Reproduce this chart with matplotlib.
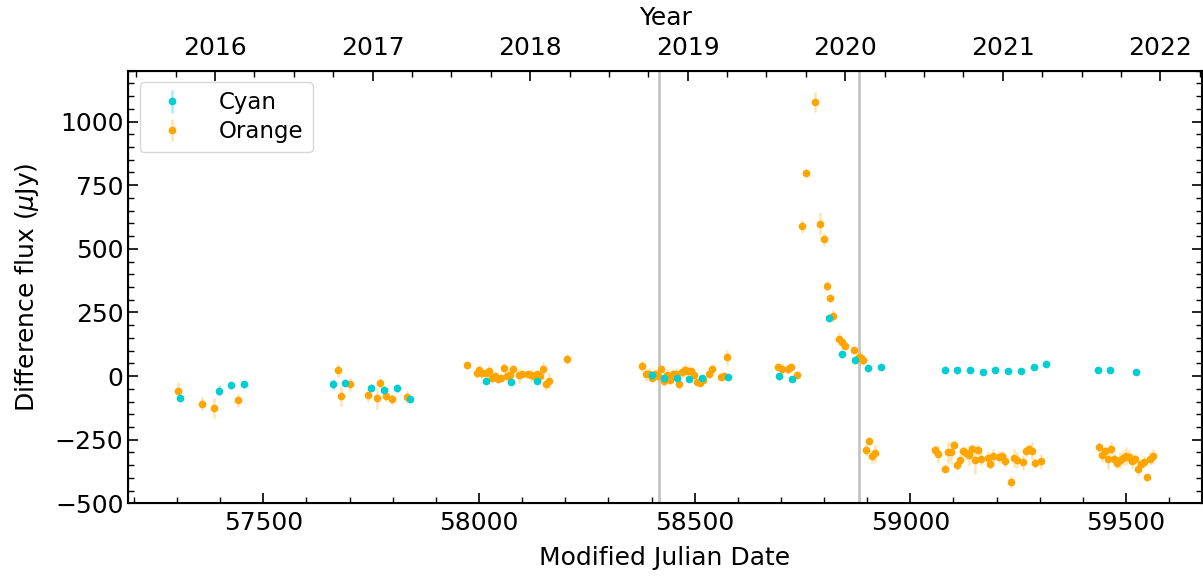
import matplotlib.pyplot as plt
from matplotlib.ticker import MultipleLocator

# Curvas de luz en flujo diferencial, dos filtros
cyan_mjd = [57307, 57397, 57426, 57455, 57662, 57690, 57750, 57780, 57809, 57839,
            58016, 58074, 58134, 58400, 58429, 58458, 58488, 58518, 58577,
            58696, 58725, 58812, 58842, 58872, 58901, 58932,
            59080, 59109, 59138, 59168, 59197, 59226, 59256, 59286, 59315,
            59434, 59464, 59523]
cyan_flux = [-88, -57, -37, -33, -33, -27, -48, -53, -48, -92,
             -18, -23, -20, 4, -6, -6, -11, -9, -2,
             -1, -10, 229, 85, 62, 31, 36,
             23, 22, 22, 15, 23, 19, 19, 36, 49,
             23, 25, 15]
cyan_err = [15, 20, 15, 15, 20, 15, 15, 15, 15, 15,
            10, 10, 10, 12, 12, 12, 12, 12, 12,
            15, 12, 15, 15, 15, 15, 10,
            15, 12, 10, 10, 10, 10, 12, 12, 15,
            10, 10, 10]

orange_mjd = [57301, 57357, 57386, 57441,
              57673, 57679, 57700, 57742, 57763, 57770, 57784, 57798, 57833,
              57973, 57995, 58001, 58008, 58016, 58022, 58030, 58037, 58043, 58050,
              58057, 58064, 58071, 58078, 58092, 58099, 58113, 58120, 58127, 58134,
              58141, 58149, 58155, 58162, 58204,
              58379, 58387, 58394, 58400, 58407, 58414, 58421, 58428, 58435, 58442,
              58449, 58456, 58463, 58470, 58477, 58484, 58491, 58499, 58506, 58513,
              58519, 58533, 58540, 58561, 58568, 58576,
              58694, 58702, 58716, 58723, 58737, 58750, 58758, 58778, 58791, 58799,
              58806, 58813, 58821, 58835, 58842, 58849, 58870, 58880, 58885, 58891,
              58898, 58905, 58912, 58918,
              59058, 59065, 59080, 59087, 59094, 59101, 59108, 59115, 59122, 59129,
              59136, 59142, 59150, 59157, 59164, 59179, 59185, 59192, 59206, 59213,
              59220, 59234, 59241, 59248, 59262, 59269, 59276, 59283, 59290, 59304,
              59437, 59444, 59451, 59458, 59465, 59472, 59479, 59486, 59492, 59499,
              59506, 59514, 59521, 59528, 59535, 59542, 59549, 59556, 59563]
orange_flux = [-60, -108, -125, -95,
               22, -79, -32, -75, -88, -27, -79, -92, -82,
               45, 14, 23, 12, 12, 18, -6, -1, -11, -6,
               33, 2, 3, 27, 3, 10, 7, 4, 0, 8,
               0, 29, -33, -18, 66,
               41, 7, 10, -7, 7, 0, 28, -19, 6, -16,
               7, 8, -31, 16, 23, 19, 21, 6, -22, -26,
               -16, 10, 27, -2, 0, 73,
               37, 27, 29, 37, 4, 589, 798, 1077, 599, 538,
               353, 305, 236, 147, 132, 117, 104, 74, 71, 62,
               -291, -254, -316, -304,
               -291, -307, -365, -300, -300, -271, -351, -330, -296, -304,
               -311, -286, -329, -291, -324, -320, -347, -316, -318, -315,
               -332, -416, -322, -330, -339, -294, -287, -295, -343, -335,
               -279, -312, -295, -324, -286, -326, -341, -330, -321, -315,
               -317, -333, -327, -365, -346, -338, -398, -325, -315]
orange_err = [35, 25, 40, 25,
              25, 40, 25, 25, 40, 20, 20, 20, 25,
              15, 20, 20, 20, 15, 20, 20, 20, 15, 15,
              20, 20, 30, 15, 30, 15, 15, 25, 20, 15,
              15, 25, 20, 30, 20,
              20, 25, 20, 15, 20, 15, 15, 20, 20, 15,
              20, 25, 20, 25, 25, 20, 15, 15, 15, 15,
              15, 15, 20, 15, 15, 30,
              15, 25, 20, 15, 10, 25, 15, 40, 45, 25,
              20, 15, 25, 25, 20, 15, 15, 30, 25, 20,
              25, 15, 25, 35,
              20, 35, 15, 40, 45, 20, 20, 25, 20, 25,
              40, 20, 55, 25, 25, 25, 20, 30, 25, 20,
              25, 25, 35, 30, 30, 25, 20, 35, 20, 30,
              20, 25, 20, 40, 25, 25, 25, 30, 30, 35,
              25, 30, 20, 25, 20, 25, 15, 25, 30]

# fechas marcadas con lineas verticales
fechas_marca = [58417, 58882]


def mjd_a_anio(mjd):
    return 2000.0 + (mjd - 51544.0) / 365.25


plt.rcParams['font.size'] = 18

fig = plt.figure(figsize=(12.03, 5.76), dpi=100)
ax = fig.add_axes([0.1067, 0.1262, 0.8922, 0.7511])

for m in fechas_marca:
    ax.axvline(m, color='#c4c4c4', lw=2, zorder=1)

h_orange = ax.errorbar(orange_mjd, orange_flux, yerr=orange_err, fmt='o', ms=4.5,
                       color='orange', ecolor=(1.0, 0.65, 0.0, 0.3), elinewidth=1.8,
                       label='Orange', zorder=3)
h_cyan = ax.errorbar(cyan_mjd, cyan_flux, yerr=cyan_err, fmt='o', ms=4.5,
                     color='darkturquoise', ecolor=(0.0, 0.81, 0.82, 0.35), elinewidth=1.8,
                     label='Cyan', zorder=4)

ax.set_xlim(57187, 59675.5)
ax.set_ylim(-500, 1200)
ax.set_xlabel("Modified Julian Date", labelpad=8)
ax.set_ylabel(r"Difference flux ($\mu$Jy)", labelpad=10)

ax.xaxis.set_major_locator(MultipleLocator(500))
ax.xaxis.set_minor_locator(MultipleLocator(100))
ax.yaxis.set_major_locator(MultipleLocator(250))
ax.yaxis.set_minor_locator(MultipleLocator(50))
ax.tick_params(which='both', direction='in', top=False, right=True)
ax.tick_params(which='major', length=7, width=1.2)
ax.tick_params(which='minor', length=4, width=1)
ax.tick_params(axis='x', which='major', pad=5.7)
for s in ax.spines.values():
    s.set_linewidth(1.5)

# eje superior en anios
ax2 = ax.twiny()
ax2.set_xlim(mjd_a_anio(57187), mjd_a_anio(59675.5))
ax2.xaxis.set_major_locator(MultipleLocator(1))
ax2.xaxis.set_minor_locator(MultipleLocator(0.25))
ax2.xaxis.set_major_formatter(plt.FuncFormatter(lambda v, p: f"{int(round(v))}"))
ax2.tick_params(which='both', direction='in')
ax2.tick_params(which='major', length=7, width=1.2, pad=7.8)
ax2.tick_params(which='minor', length=4, width=1)
ax2.set_xlabel("Year", labelpad=7.8)

ax.legend([h_cyan, h_orange], ['Cyan', 'Orange'], loc='upper left', fontsize=16.5,
          labelspacing=0.25, handletextpad=1.05)

fig.savefig("out.png", dpi=100)
